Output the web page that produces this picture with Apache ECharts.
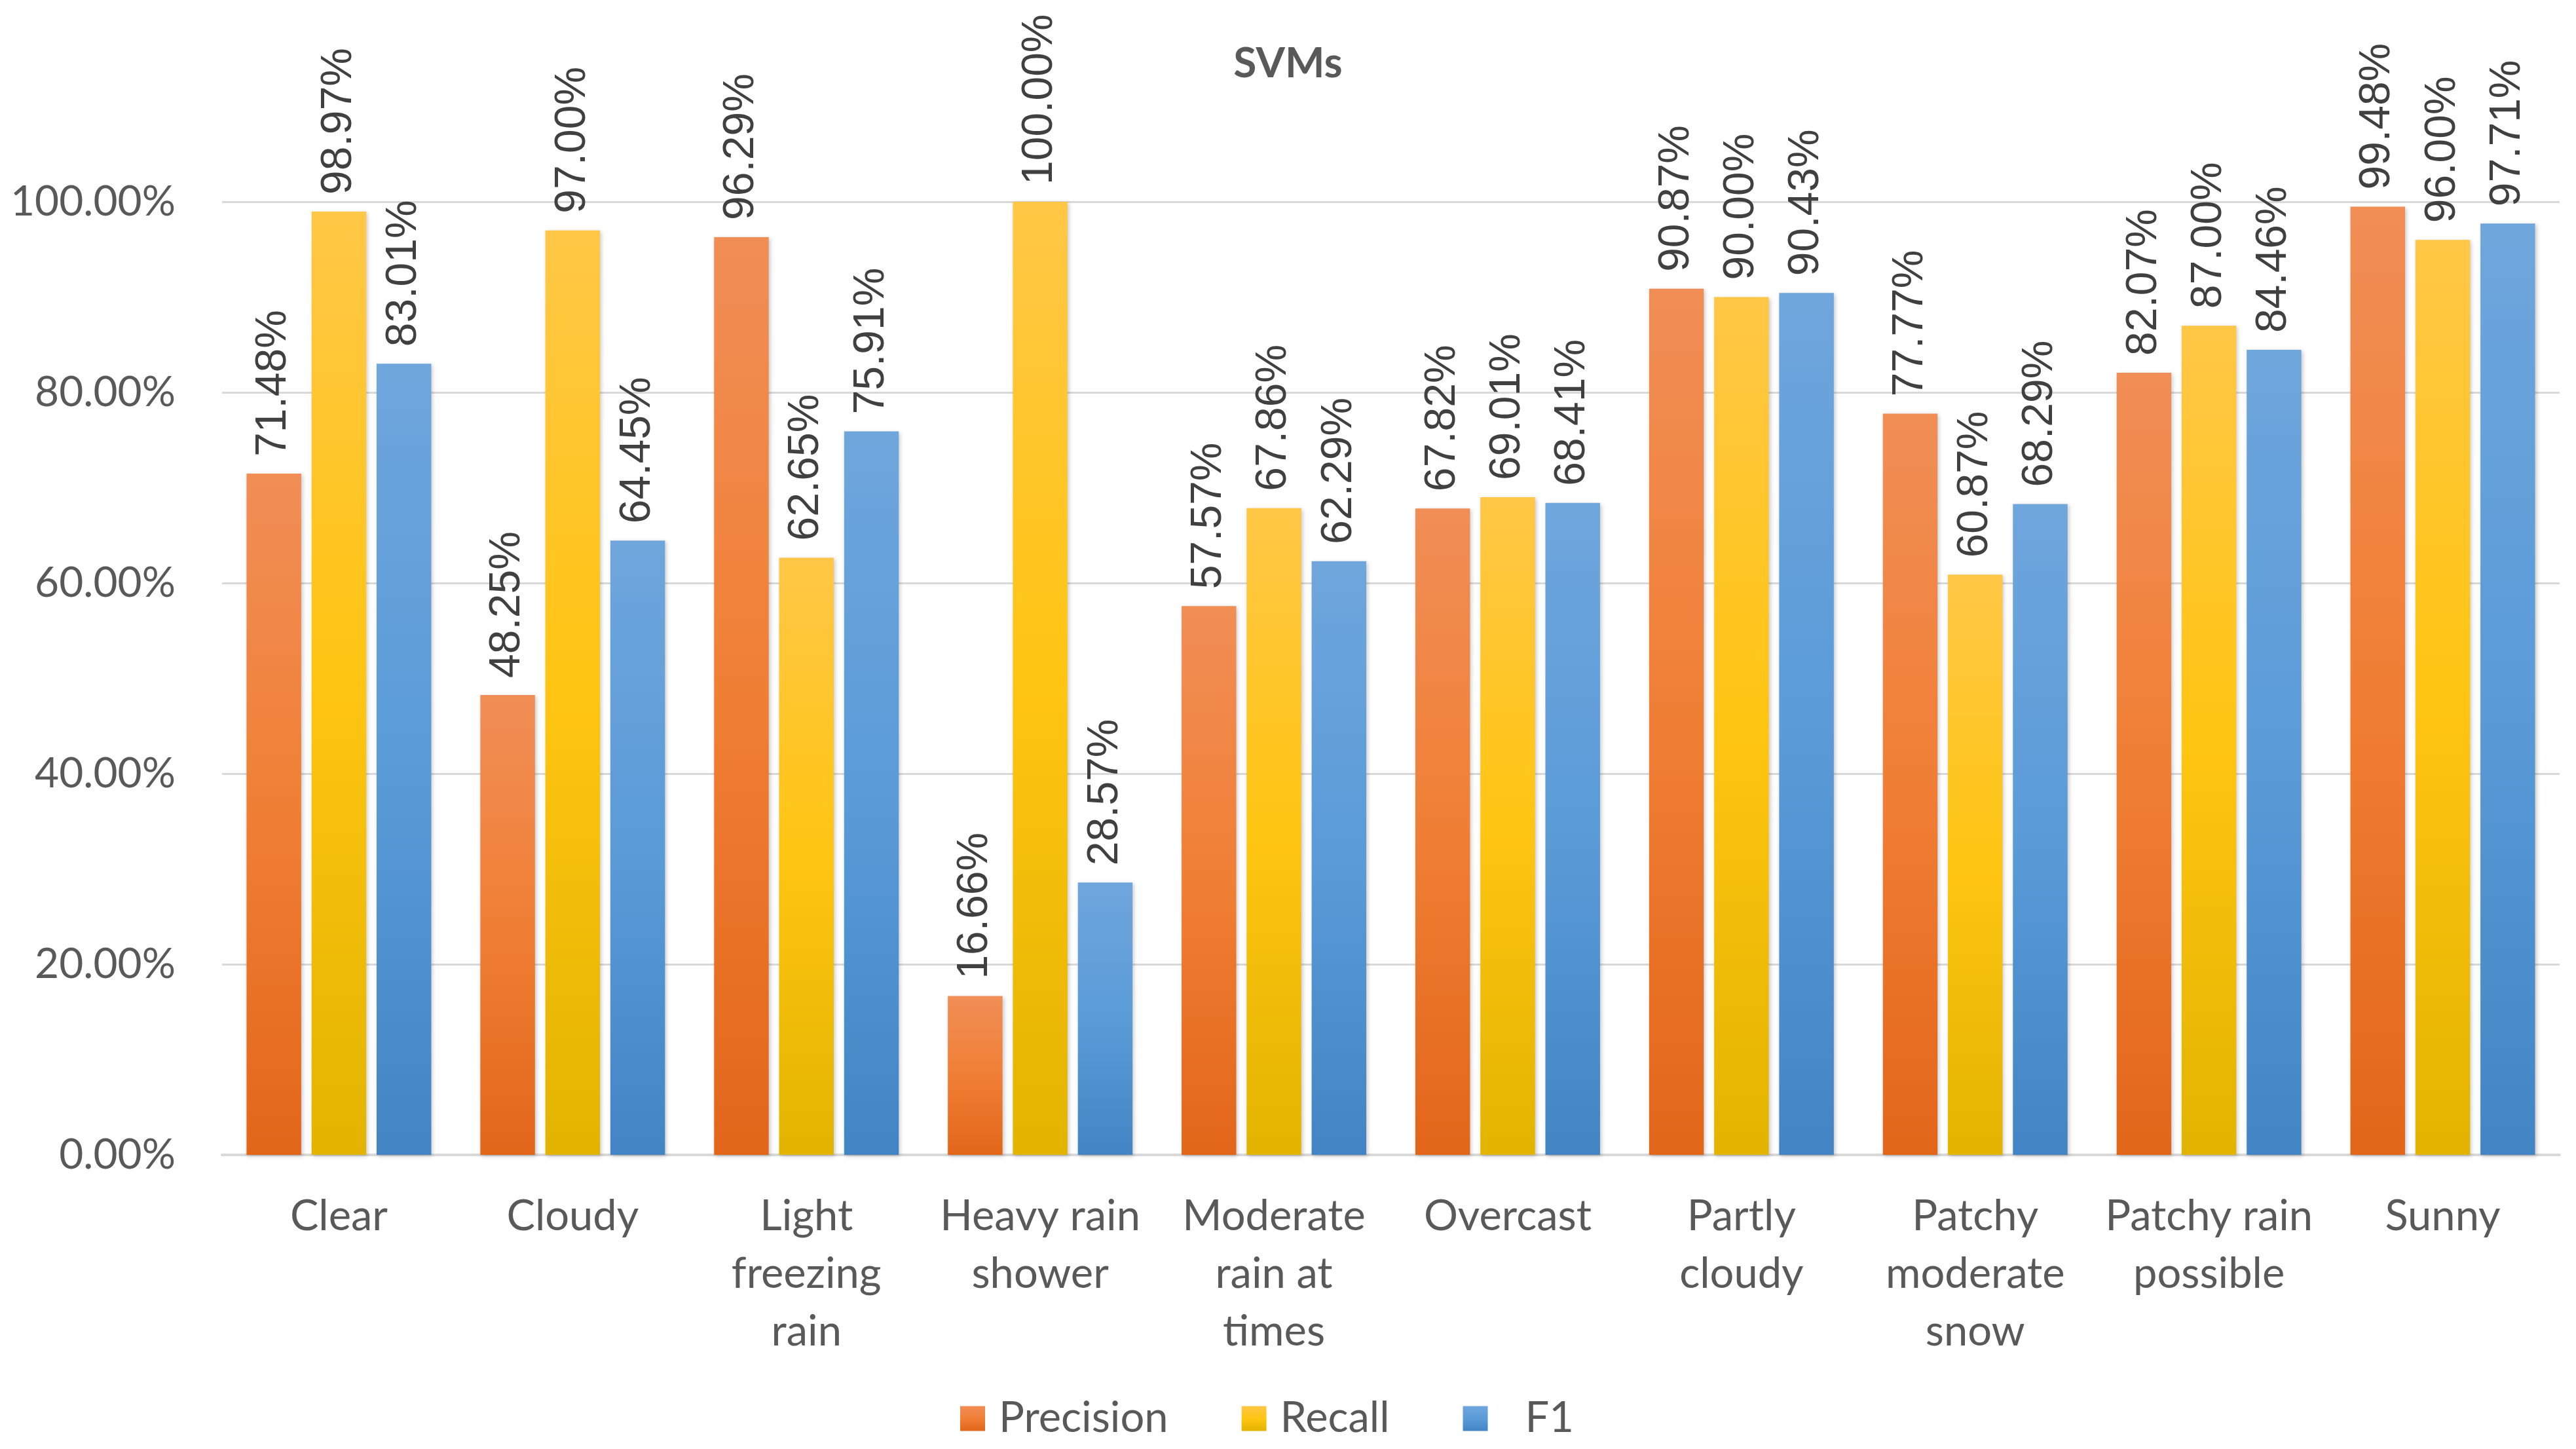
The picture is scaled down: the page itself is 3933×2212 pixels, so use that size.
<!DOCTYPE html>
<html>
<head>
<meta charset="utf-8">
<script src="https://cdn.jsdelivr.net/npm/echarts@6/dist/echarts.min.js"></script>
<style>
html,body{margin:0;padding:0;background:#fff;}
#chart{width:3933px;height:2212px;}
</style>
</head>
<body>
<div id="chart"></div>
<script>
const categories = ["Clear", "Cloudy", "Light\nfreezing\nrain", "Heavy rain\nshower", "Moderate\nrain at\ntimes", "Overcast", "Partly\ncloudy", "Patchy\nmoderate\nsnow", "Patchy rain\npossible", "Sunny"];
const precision = [71.48, 48.25, 96.29, 16.66, 57.57, 67.82, 90.87, 77.77, 82.07, 99.48];
const recall = [98.97, 97.00, 62.65, 100.00, 67.86, 69.01, 90.00, 60.87, 87.00, 96.00];
const f1 = [83.01, 64.45, 75.91, 28.57, 62.29, 68.41, 90.43, 68.29, 84.46, 97.71];
const yTicks = [0, 20, 40, 60, 80, 100];

function grad(c0, c1, c2) {
  return new echarts.graphic.LinearGradient(0, 0, 0, 1, [
    {offset: 0, color: c0}, {offset: 0.5, color: c1}, {offset: 1, color: c2}
  ]);
}
const labelFont = '"Liberation Sans", Arial, sans-serif';
const uiFont = 'Lato, "Open Sans", sans-serif';

function mkSeries(name, data, color) {
  return {
    name: name,
    type: 'bar',
    data: data,
    barGap: '19%',
    barCategoryGap: '21%',
    itemStyle: {
      color: color,
      shadowColor: 'rgba(0,0,0,0.22)',
      shadowBlur: 6,
      shadowOffsetX: 2,
      shadowOffsetY: 2
    },
    label: {
      show: true,
      position: 'top',
      rotate: 90,
      align: 'left',
      verticalAlign: 'middle',
      distance: 26,
      color: '#404040',
      fontFamily: labelFont,
      fontSize: 66,
      formatter: p => p.value.toFixed(2) + '%'
    }
  };
}

const chart = echarts.init(document.getElementById('chart'));
chart.setOption({
  animation: false,
  backgroundColor: '#ffffff',
  title: {
    text: 'SVMs',
    left: 'center',
    top: 60,
    textStyle: {fontFamily: uiFont, fontWeight: 'bold', fontSize: 64, color: '#595959'}
  },
  legend: {
    left: 1461,
    top: 2128,
    icon: 'rect',
    itemWidth: 38,
    itemHeight: 38,
    itemGap: 112,
    textStyle: {fontFamily: uiFont, fontSize: 65, color: '#595959', padding: [0, 0, 0, 16]},
    data: [
      {name: 'Precision'},
      {name: 'Recall'},
      {name: 'F1', textStyle: {padding: [0, 0, 0, 52]}}
    ]
  },
  grid: {left: 339, right: 25, top: 308, bottom: 449, containLabel: false},
  xAxis: {
    type: 'category',
    data: categories,
    axisLine: {show: true, lineStyle: {color: '#D9D9D9', width: 4}},
    axisTick: {show: false},
    axisLabel: {
      interval: 0,
      margin: 50,
      fontFamily: uiFont,
      fontSize: 65,
      lineHeight: 88,
      color: '#595959'
    }
  },
  yAxis: {
    type: 'value',
    min: 0,
    max: 100,
    interval: 20,
    axisLine: {show: false},
    axisTick: {show: false},
    splitLine: {lineStyle: {color: '#D9D9D9', width: 3}},
    axisLabel: {
      margin: 71,
      fontFamily: uiFont,
      fontSize: 64,
      color: '#595959',
      formatter: v => yTicks.includes(v) ? v.toFixed(2) + '%' : ''
    }
  },
  series: [
    mkSeries('Precision', precision, grad('#F18E56', '#F07F35', '#E2661A')),
    mkSeries('Recall', recall, grad('#FFC746', '#FFC512', '#E2B400')),
    mkSeries('F1', f1, grad('#6FA6DC', '#5A9BD8', '#4384C4'))
  ]
});
</script>
</body>
</html>
